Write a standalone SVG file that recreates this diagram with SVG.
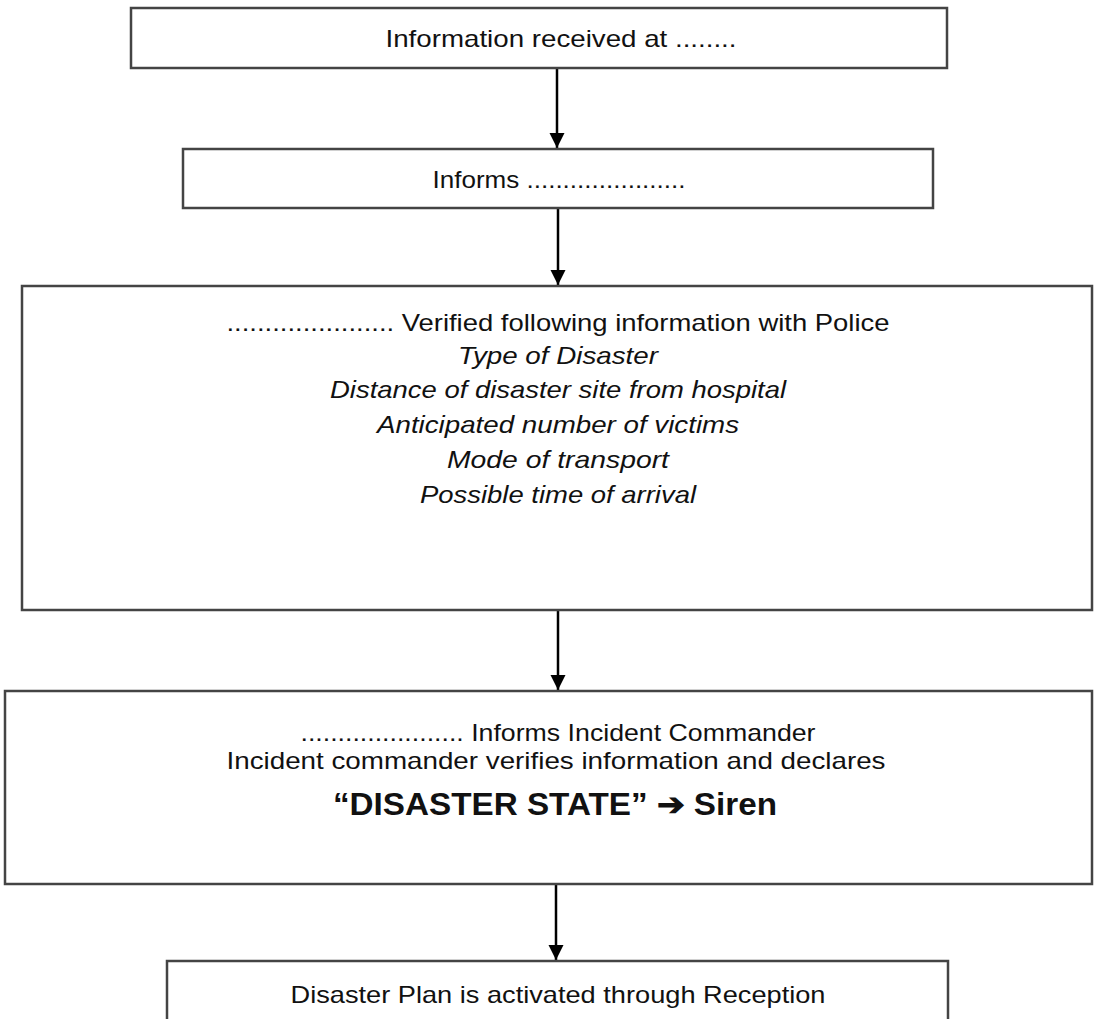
<svg xmlns="http://www.w3.org/2000/svg" width="1094" height="1019" viewBox="0 0 1094 1019">
<defs>
<style>
.box{fill:#fff;stroke:#444;stroke-width:2.5}
.t{font-family:"Liberation Sans","Open Sans",sans-serif;font-size:24px;fill:#111;text-anchor:middle}
.i{font-style:italic}
.b{font-weight:bold;font-size:31px}
.c{stroke:#000;stroke-width:2.5;fill:none}
</style>
<marker id="ah" markerWidth="15" markerHeight="17" refX="15" refY="7.5" orient="auto" markerUnits="userSpaceOnUse" viewBox="0 0 15 15">
<path d="M0,0 L15,7.5 L0,15 z" fill="#000"/>
</marker>
</defs>
<rect width="1094" height="1019" fill="#fff"/>
<g id="connectors">
<line class="c" x1="557" y1="69" x2="557" y2="148" marker-end="url(#ah)"/>
<line class="c" x1="558" y1="208" x2="558" y2="285" marker-end="url(#ah)"/>
<line class="c" x1="558" y1="610" x2="558" y2="690" marker-end="url(#ah)"/>
<line class="c" x1="556" y1="884" x2="556" y2="960" marker-end="url(#ah)"/>
</g>
<g id="n1">
<rect class="box" x="131" y="8" width="816" height="60"/>
<text class="t" x="561" y="47" textLength="351" lengthAdjust="spacingAndGlyphs">Information received at ........</text>
</g>
<g id="n2">
<rect class="box" x="183" y="149" width="750" height="59"/>
<text class="t" x="559" y="188" textLength="253" lengthAdjust="spacingAndGlyphs">Informs ......................</text>
</g>
<g id="n3">
<rect class="box" x="22" y="286" width="1070" height="324"/>
<text class="t" x="558" y="331" textLength="663" lengthAdjust="spacingAndGlyphs">...................... Verified following information with Police</text>
<text class="t i" x="558" y="364" textLength="200" lengthAdjust="spacingAndGlyphs">Type of Disaster</text>
<text class="t i" x="558" y="398" textLength="456" lengthAdjust="spacingAndGlyphs">Distance of disaster site from hospital</text>
<text class="t i" x="558" y="433" textLength="362" lengthAdjust="spacingAndGlyphs">Anticipated number of victims</text>
<text class="t i" x="558" y="468" textLength="222" lengthAdjust="spacingAndGlyphs">Mode of transport</text>
<text class="t i" x="558" y="503" textLength="276" lengthAdjust="spacingAndGlyphs">Possible time of arrival</text>
</g>
<g id="n4">
<rect class="box" x="5" y="691" width="1087" height="193"/>
<text class="t" x="558" y="741" textLength="515" lengthAdjust="spacingAndGlyphs">...................... Informs Incident Commander</text>
<text class="t" x="556" y="769" textLength="659" lengthAdjust="spacingAndGlyphs">Incident commander verifies information and declares</text>
<text class="t b" x="555" y="815" textLength="444" lengthAdjust="spacingAndGlyphs">“DISASTER STATE” ➔ Siren</text>
</g>
<g id="n5">
<rect class="box" x="167" y="961" width="781" height="70"/>
<text class="t" x="558" y="1003" textLength="535" lengthAdjust="spacingAndGlyphs">Disaster Plan is activated through Reception</text>
</g>
</svg>
